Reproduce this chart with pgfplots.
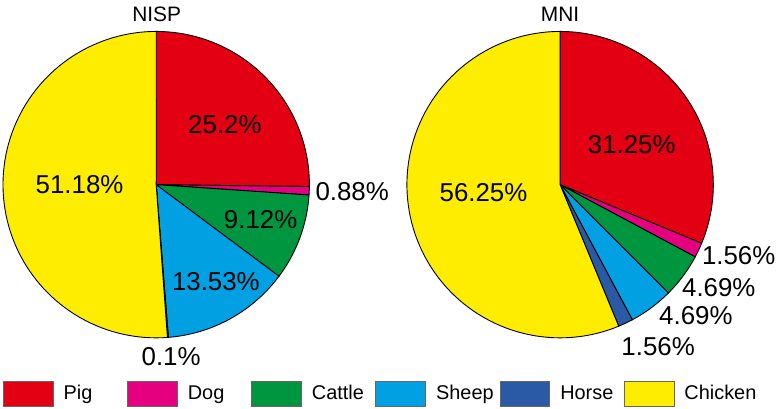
\documentclass[border=0pt]{standalone}
\usepackage{fontspec}
\setmainfont{Liberation Sans}
\usepackage{pgfplots}
\pgfplotsset{compat=1.18}
\definecolor{cpig}{RGB}{227,0,19}
\definecolor{cdog}{RGB}{228,0,127}
\definecolor{ccattle}{RGB}{0,150,64}
\definecolor{csheep}{RGB}{0,160,227}
\definecolor{chorse}{RGB}{42,90,166}
\definecolor{cchicken}{RGB}{255,237,0}
% running sum of the pie, in percent
\gdef\cum{0}
\newcommand{\resetpie}{\gdef\cum{0}}
% #1 = centre x, #2 = centre y, #3 = percentage, #4 = colour
\newcommand{\slice}[4]{%
  \pgfmathsetmacro\aEnd{90-3.6*\cum}%
  \pgfmathsetmacro\newcum{\cum+#3}%
  \pgfmathsetmacro\aStart{90-3.6*\newcum}%
  \xdef\cum{\newcum}%
  \edef\temp{\noexpand\addplot[draw=black, line width=0.45pt, fill=#4,
    domain=\aStart:\aEnd, samples=90, variable=\noexpand\t, forget plot]
    ({#1+154*cos(\noexpand\t)},{#2+154*sin(\noexpand\t)}) -- (axis cs:#1,#2) -- cycle;}%
  \temp
}
\newcommand{\lab}{\fontsize{13}{15}\selectfont}
\begin{document}
\begin{tikzpicture}
\begin{axis}[
  width=391pt, height=204pt, scale only axis,
  xmin=0, xmax=782, ymin=0, ymax=408,
  hide axis, clip=false,
  legend columns=6,
  legend style={at={(axis cs:3,14.5)}, anchor=west, draw=none, fill=none,
    inner sep=0pt, outer sep=0pt, font=\fontsize{10}{12}\selectfont,
    /tikz/every odd column/.append style={column sep=3pt}},
  legend image code/.code={\draw[#1,draw=gray!80!black,line width=0.5pt] (0pt,-6.25pt) rectangle (25pt,6.25pt);},
]
\addplot[draw=none, forget plot] coordinates {(0,0) (782,408)};
% NISP: Pig, Dog, Cattle, Sheep, Horse, Chicken
\resetpie
\slice{157}{225}{25.2}{cpig}
\slice{157}{225}{0.88}{cdog}
\slice{157}{225}{9.12}{ccattle}
\slice{157}{225}{13.53}{csheep}
\slice{157}{225}{0.1}{chorse}
\slice{157}{225}{51.18}{cchicken}
% MNI: Pig, Dog, Cattle, Sheep, Horse, Chicken
\resetpie
\slice{563}{225}{31.25}{cpig}
\slice{563}{225}{1.56}{cdog}
\slice{563}{225}{4.69}{ccattle}
\slice{563}{225}{4.69}{csheep}
\slice{563}{225}{1.56}{chorse}
\slice{563}{225}{56.25}{cchicken}

\node[font=\fontsize{10.5}{12}\selectfont] at (axis cs:157.5,396.5) {NISP};
\node[font=\fontsize{10.5}{12}\selectfont] at (axis cs:563,396.5) {MNI};

\node[font=\lab] at (axis cs:226,285) {25.2\%};
\node[font=\lab] at (axis cs:80,225) {51.18\%};
\node[font=\lab] at (axis cs:262,190) {9.12\%};
\node[font=\lab] at (axis cs:217,128) {13.53\%};
\node[font=\lab] at (axis cs:354,218) {0.88\%};
\node[font=\lab] at (axis cs:172,52) {0.1\%};

\node[font=\lab] at (axis cs:635,265) {31.25\%};
\node[font=\lab] at (axis cs:486,217) {56.25\%};
\node[font=\lab] at (axis cs:742.5,154) {1.56\%};
\node[font=\lab] at (axis cs:722.5,122) {4.69\%};
\node[font=\lab] at (axis cs:699.5,93.5) {4.69\%};
\node[font=\lab] at (axis cs:661.5,62.5) {1.56\%};

\addlegendimage{fill=cpig}\addlegendentry{\makebox[29.9pt][l]{Pig}}
\addlegendimage{fill=cdog}\addlegendentry{\makebox[29.9pt][l]{Dog}}
\addlegendimage{fill=ccattle}\addlegendentry{\makebox[29.9pt][l]{Cattle}}
\addlegendimage{fill=csheep}\addlegendentry{\makebox[29.9pt][l]{Sheep}}
\addlegendimage{fill=chorse}\addlegendentry{\makebox[29.9pt][l]{Horse}}
\addlegendimage{fill=cchicken}\addlegendentry{\makebox[29.9pt][l]{Chicken}}
\end{axis}
\end{tikzpicture}
\end{document}
